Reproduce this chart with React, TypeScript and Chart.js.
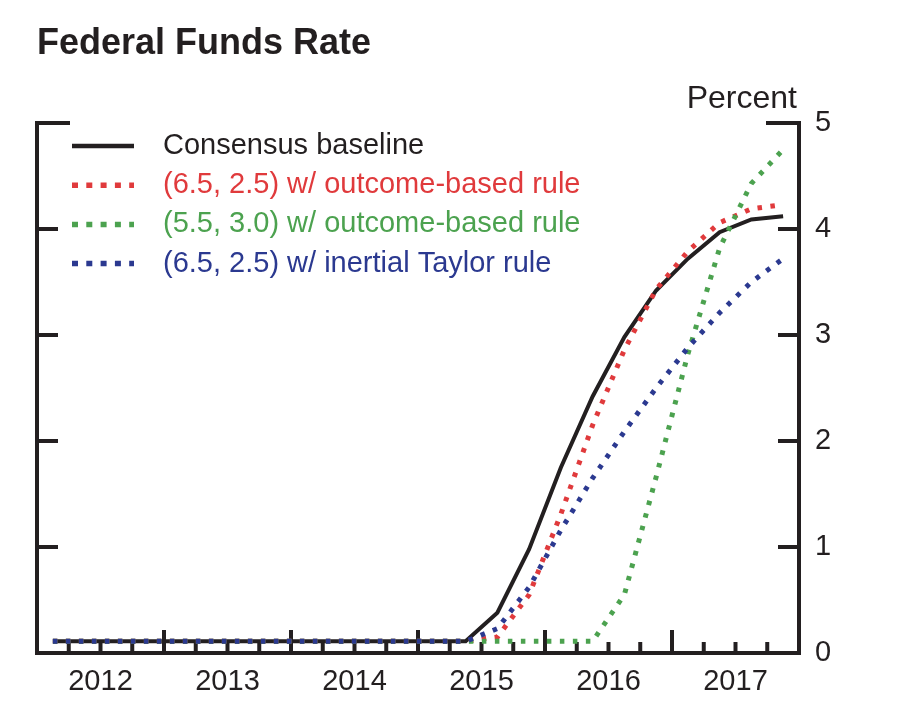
import React, { useEffect, useRef } from "react";
import { Chart, registerables } from "chart.js";

Chart.register(...registerables);

const FONT = '"Liberation Sans", Arial, Helvetica, sans-serif';
const INK = "#231f20";
const RED = "#e03a3c";
const GREEN = "#4ca24f";
const BLUE = "#2b3990";

const quarters = [
  "2012:Q1", "2012:Q2", "2012:Q3", "2012:Q4",
  "2013:Q1", "2013:Q2", "2013:Q3", "2013:Q4",
  "2014:Q1", "2014:Q2", "2014:Q3", "2014:Q4",
  "2015:Q1", "2015:Q2", "2015:Q3", "2015:Q4",
  "2016:Q1", "2016:Q2", "2016:Q3", "2016:Q4",
  "2017:Q1", "2017:Q2", "2017:Q3", "2017:Q4",
];

const consensusBaseline = [
  0.11, 0.11, 0.11, 0.11, 0.11, 0.11, 0.11, 0.11, 0.11, 0.11, 0.11, 0.11, 0.11, 0.11,
  0.38, 0.98, 1.75, 2.42, 2.98, 3.42, 3.72, 3.97, 4.09, 4.12,
];
const outcome6525 = [
  0.11, 0.11, 0.11, 0.11, 0.11, 0.11, 0.11, 0.11, 0.11, 0.11, 0.11, 0.11, 0.11, 0.11,
  0.15, 0.55, 1.31, 2.15, 2.86, 3.43, 3.79, 4.06, 4.19, 4.23,
];
const outcome5530 = [
  0.11, 0.11, 0.11, 0.11, 0.11, 0.11, 0.11, 0.11, 0.11, 0.11, 0.11, 0.11, 0.11, 0.11,
  0.11, 0.11, 0.11, 0.11, 0.55, 1.66, 2.82, 3.82, 4.43, 4.75,
];
const taylor6525 = [
  0.11, 0.11, 0.11, 0.11, 0.11, 0.11, 0.11, 0.11, 0.11, 0.11, 0.11, 0.11, 0.11, 0.11,
  0.23, 0.62, 1.16, 1.65, 2.09, 2.5, 2.88, 3.21, 3.5, 3.72,
];

const yearLabels = ["2012", "2013", "2014", "2015", "2016", "2017"];
const yTickValues = [0, 1, 2, 3, 4, 5];

const seriesNames = [
  "Consensus baseline",
  "(6.5, 2.5) w/ outcome-based rule",
  "(5.5, 3.0) w/ outcome-based rule",
  "(6.5, 2.5) w/ inertial Taylor rule",
];

function quarterToX(q: string): number {
  const [y, qq] = q.split(":Q");
  return Number(y) + (Number(qq) - 0.5) / 4;
}

function toPoints(values: number[]) {
  return values.map((v, i) => ({ x: quarterToX(quarters[i]), y: v }));
}

const X_MIN = Number(yearLabels[0]);
const X_MAX = Number(yearLabels[yearLabels.length - 1]) + 1;

const framePlugin = {
  id: "frame",
  beforeDatasetsDraw(chart: any) {
    const { ctx, chartArea: a, scales } = chart;
    const x = scales.x;
    const y = scales.y;
    ctx.save();
    ctx.strokeStyle = INK;
    ctx.lineWidth = 4;
    ctx.lineCap = "butt";
    const seg = (x1: number, y1: number, x2: number, y2: number) => {
      ctx.beginPath();
      ctx.moveTo(x1, y1);
      ctx.lineTo(x2, y2);
      ctx.stroke();
    };
    x.ticks.forEach((t: any) => {
      const px = x.getPixelForValue(t.value);
      const len = Math.abs(t.value - Math.round(t.value)) < 1e-6 ? 23 : 11;
      seg(px, a.bottom, px, a.bottom - len);
    });
    y.ticks.forEach((t: any) => {
      if (t.value === y.min) return;
      const py = y.getPixelForValue(t.value);
      const len = t.value === y.max ? 33 : 21;
      seg(a.left, py, a.left + len, py);
      seg(a.right - len, py, a.right, py);
    });
    ctx.lineCap = "square";
    ctx.beginPath();
    ctx.moveTo(a.left, a.top);
    ctx.lineTo(a.left, a.bottom);
    ctx.lineTo(a.right, a.bottom);
    ctx.lineTo(a.right, a.top);
    ctx.stroke();
    ctx.restore();
  },
  afterDraw(chart: any) {
    const { ctx } = chart;
    ctx.save();
    ctx.font = `29px ${FONT}`;
    ctx.textBaseline = "middle";
    ctx.textAlign = "left";
    chart.data.datasets.forEach((ds: any, i: number) => {
      const yy = 146 + i * 39.2;
      ctx.strokeStyle = ds.borderColor;
      ctx.lineCap = "butt";
      if (ds.borderDash && ds.borderDash.length) {
        ctx.lineWidth = 5.5;
        ctx.setLineDash([6, 8.3]);
      } else {
        ctx.lineWidth = 4.5;
        ctx.setLineDash([]);
      }
      ctx.beginPath();
      ctx.moveTo(72, yy);
      ctx.lineTo(134, yy);
      ctx.stroke();
      ctx.setLineDash([]);
      ctx.fillStyle = ds.textColor;
      ctx.fillText(ds.label, 163, yy);
    });
    ctx.font = `32px ${FONT}`;
    ctx.textAlign = "right";
    ctx.textBaseline = "alphabetic";
    ctx.fillStyle = INK;
    ctx.fillText("Percent", 797, 108);
    ctx.restore();
  },
};

export default function App() {
  const ref = useRef<HTMLCanvasElement | null>(null);

  useEffect(() => {
    if (!ref.current) return;
    const dotted = [4.5, 8.5];
    const chart = new Chart(ref.current, {
      type: "line",
      data: {
        datasets: [
          {
            label: seriesNames[0],
            data: toPoints(consensusBaseline),
            borderColor: INK,
            textColor: INK,
            borderWidth: 4,
            borderDash: [],
            order: 4,
          } as any,
          {
            label: seriesNames[1],
            data: toPoints(outcome6525),
            borderColor: RED,
            textColor: RED,
            borderWidth: 5,
            borderDash: dotted,
            order: 3,
          } as any,
          {
            label: seriesNames[2],
            data: toPoints(outcome5530),
            borderColor: GREEN,
            textColor: GREEN,
            borderWidth: 5,
            borderDash: dotted,
            order: 2,
          } as any,
          {
            label: seriesNames[3],
            data: toPoints(taylor6525),
            borderColor: BLUE,
            textColor: BLUE,
            borderWidth: 5,
            borderDash: dotted,
            order: 1,
          } as any,
        ],
      },
      options: {
        animation: false,
        responsive: false,
        devicePixelRatio: 1,
        events: [],
        elements: {
          point: { radius: 0 },
          line: { tension: 0, borderCapStyle: "butt", borderJoinStyle: "miter", fill: false },
        },
        layout: { padding: { left: 37, right: 0, top: 0, bottom: 0 } },
        plugins: {
          legend: { display: false },
          tooltip: { enabled: false },
          title: {
            display: true,
            text: "Federal Funds Rate",
            align: "start",
            color: INK,
            font: { family: FONT, size: 36, weight: "bold", lineHeight: 1.2 },
            padding: { top: 22, bottom: 57.8 },
          },
        },
        scales: {
          x: {
            type: "linear",
            min: X_MIN,
            max: X_MAX,
            grid: { display: false, drawTicks: false },
            border: { display: false },
            afterBuildTicks: (axis: any) => {
              const ticks: any[] = [];
              for (let k = 0; k <= (X_MAX - X_MIN) * 4; k++) ticks.push({ value: X_MIN + k / 4 });
              axis.ticks = ticks;
            },
            afterFit: (axis: any) => {
              axis.height = 69;
            },
            ticks: {
              autoSkip: false,
              maxRotation: 0,
              minRotation: 0,
              padding: 12,
              color: INK,
              font: { family: FONT, size: 29 },
              callback: (value: any) => {
                const v = Number(value);
                const frac = v - Math.floor(v);
                if (Math.abs(frac - 0.5) < 1e-6) {
                  const idx = Math.floor(v) - X_MIN;
                  return yearLabels[idx] ?? "";
                }
                return "";
              },
            },
          },
          y: {
            type: "linear",
            position: "right",
            min: 0,
            max: 5,
            grid: { display: false, drawTicks: false },
            border: { display: false },
            afterBuildTicks: (axis: any) => {
              axis.ticks = yTickValues.map((v) => ({ value: v }));
            },
            afterFit: (axis: any) => {
              axis.width = 117;
            },
            ticks: {
              padding: 16,
              color: INK,
              font: { family: FONT, size: 29 },
              callback: (value: any) => String(value),
            },
          },
        },
      },
      plugins: [framePlugin],
    } as any);
    return () => chart.destroy();
  }, []);

  return (
    <div style={{ position: "fixed", left: 0, top: 0, width: 916, height: 722, background: "#fff" }}>
      <canvas ref={ref} width={916} height={722} style={{ display: "block" }} />
    </div>
  );
}
